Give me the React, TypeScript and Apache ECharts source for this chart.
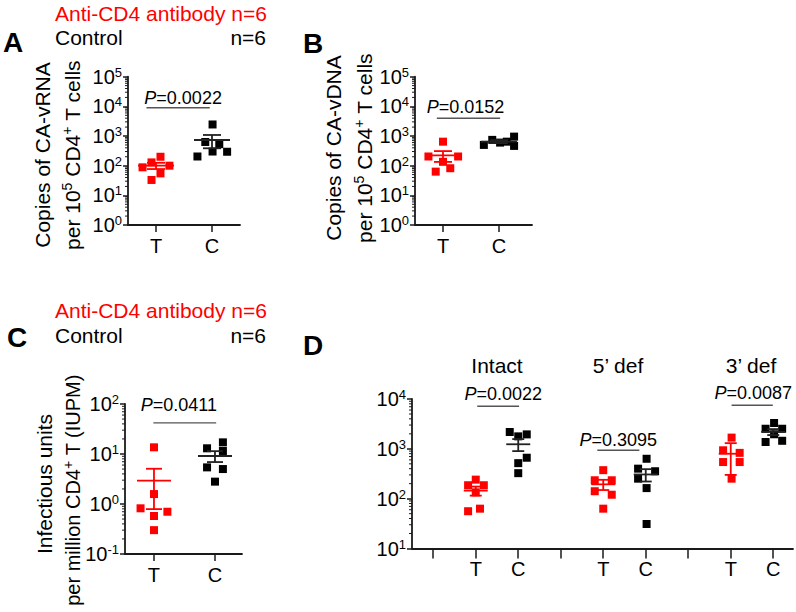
import React, { useEffect, useRef } from "react";
import * as echarts from "echarts";

const FONT = "'Liberation Sans', Arial, Helvetica, sans-serif";
const RED = "#ff0000";
const BLACK = "#000000";
const AXIS = "#1a1a1a";

const groupLabels = ["T", "C"];
const dGroupNames = ["Intact", "5\u2019 def", "3\u2019 def"];

// Panel A: CA-vRNA copies per 10^5 CD4+ T cells
const aTreatX = [-0.24, -0.08, 0.08, 0.24, 0.08, -0.08];
const aTreatY = [88, 129, 200, 100, 55, 33];
const aCtrlX = [0.74, 0.88, 1.01, 1.01, 1.13, 1.27];
const aCtrlY = [204, 630, 2450, 300, 530, 295];
const aMean = [100, 735];
const aLow = [77, 386];
const aHigh = [125, 1084];

// Panel B: CA-vDNA copies per 10^5 CD4+ T cells
const bTreatX = [0.0, -0.26, 0.27, 0.0, 0.13, -0.13];
const bTreatY = [645, 204, 204, 135, 82, 63];
const bCtrlX = [0.73, 0.88, 1.02, 1.14, 1.27, 1.27];
const bCtrlY = [501, 741, 600, 645, 955, 464];
const bMean = [222, 651];
const bLow = [134, 578];
const bHigh = [310, 724];

// Panel C: IUPM
const cTreatX = [0.0, 0.0, -0.22, 0.22, 0.0, 0.0];
const cTreatY = [13.6, 1.58, 0.82, 0.7, 0.575, 0.3];
const cCtrlX = [0.87, 1.13, 1.13, 0.87, 1.13, 1.0];
const cCtrlY = [13.0, 17.1, 11.5, 5.4, 5.0, 2.8];
const cMean = [2.93, 9.13];
const cLow = [0.79, 6.9];
const cHigh = [5.07, 11.4];

// Panel D: Intact / 5' def / 3' def
const dTreatX = [
  [0.82, 1.1, 0.82, 1.0, 1.19, 1.0],
  [4.0, 3.8, 4.2, 3.8, 4.2, 4.0],
  [7.02, 6.82, 7.21, 6.82, 7.21, 7.02],
];
const dTreatY = [
  [56, 63, 186, 241, 186, 134],
  [373, 234, 234, 141, 120, 63],
  [1680, 935, 830, 543, 543, 252],
];
const dCtrlX = [
  [1.8, 2.0, 2.2, 2.2, 2.0, 2.0],
  [5.02, 4.82, 5.22, 4.82, 5.02, 5.02],
  [8.02, 7.82, 8.21, 8.02, 7.82, 8.21],
];
const dCtrlY = [
  [2175, 1780, 1950, 663, 516, 325],
  [632, 400, 355, 252, 163, 31],
  [3300, 2530, 2530, 1960, 1370, 1450],
];
const dTreatPos = [1, 4, 7];
const dCtrlPos = [2, 5, 8];
const dTreatMean = [145, 194, 797];
const dTreatLow = [115, 149, 300];
const dTreatHigh = [175, 239, 1300];
const dCtrlMean = [1235, 306, 2190];
const dCtrlLow = [900, 221, 1890];
const dCtrlHigh = [1570, 391, 2490];

// significance annotations
const pA = ["0.0022"];
const pB = ["0.0152"];
const pC = ["0.0411"];
const pD = ["0.0022", "0.3095", "0.0087"];
const sigA = [{ x1: -0.17, x2: 0.96, y: 9000, dx: 5, dy: -9.5 }];
const sigB = [{ x1: -0.11, x2: 1.02, y: 3950, dx: -3, dy: -11 }];
const sigC = [{ x1: -0.01, x2: 1.02, y: 42, dx: -6, dy: -17.5 }];
const sigD = [
  { x1: 1.035, x2: 2.02, y: 7130, dx: 5, dy: -12.5 },
  { x1: 3.86, x2: 4.85, y: 935, dx: 0, dy: -10.5 },
  { x1: 7.02, x2: 7.99, y: 7470, dx: 1, dy: -12.5 },
];

const zip = (xs: number[], ys: number[]) => xs.map((x, i) => [x, ys[i]]);

const supRich = {
  b: { fontSize: 20, fontFamily: FONT, color: "#000", lineHeight: 22 },
  s: { fontSize: 13, fontFamily: FONT, color: "#000", lineHeight: 12, verticalAlign: "top" },
};

function xAxisCfg(gi: number, min: number, max: number, tickVals: number[], labelVals: number[], labelFn: (v: number) => string, tickLen: number, margin: number) {
  return {
    gridIndex: gi,
    type: "value",
    min,
    max,
    axisLine: { show: true, onZero: false, lineStyle: { color: AXIS, width: 1.8 } },
    axisTick: { show: true, length: tickLen, customValues: tickVals, lineStyle: { color: AXIS, width: 1.5 } },
    axisLabel: { show: true, customValues: labelVals, formatter: labelFn, margin, fontSize: 20, color: "#000", fontFamily: FONT },
    splitLine: { show: false },
    minorTick: { show: false },
  };
}

function yAxisCfg(gi: number, min: number, max: number) {
  return {
    gridIndex: gi,
    type: "log",
    logBase: 10,
    min,
    max,
    axisLine: { show: true, onZero: false, lineStyle: { color: AXIS, width: 1.8 } },
    axisTick: { show: true, length: 5, lineStyle: { color: AXIS, width: 1.5 } },
    minorTick: { show: false },
    splitLine: { show: false },
    axisLabel: {
      margin: 6,
      formatter: (v: number) => `{b|10}{s|${Math.round(Math.log10(v))}}`,
      rich: supRich,
    },
  };
}

function minorTickSeries(gi: number, xMin: number, expMin: number, expMax: number) {
  const data: number[][] = [];
  for (let e = expMin; e < expMax; e++) {
    for (let m = 2; m <= 9; m++) data.push([xMin, m * Math.pow(10, e)]);
  }
  return {
    type: "custom",
    coordinateSystem: "cartesian2d",
    xAxisIndex: gi,
    yAxisIndex: gi,
    silent: true,
    clip: false,
    z: 3,
    data,
    renderItem: (_p: any, api: any) => {
      const p = api.coord([api.value(0), api.value(1)]);
      return {
        type: "line",
        shape: { x1: p[0] - 3, y1: p[1], x2: p[0], y2: p[1] },
        style: { stroke: AXIS, lineWidth: 1 },
      };
    },
  };
}

function scatter(gi: number, data: number[][], color: string, size: number) {
  return {
    type: "scatter",
    xAxisIndex: gi,
    yAxisIndex: gi,
    symbol: "rect",
    symbolSize: size,
    itemStyle: { color, opacity: 1 },
    data,
    z: 4,
    silent: true,
  };
}

function errSeries(gi: number, xs: number[], means: number[], lows: number[], highs: number[], color: string, hw: number, cw: number) {
  return {
    type: "custom",
    coordinateSystem: "cartesian2d",
    xAxisIndex: gi,
    yAxisIndex: gi,
    silent: true,
    clip: false,
    z: 6,
    data: xs.map((x, i) => [x, means[i], lows[i], highs[i]]),
    renderItem: (_p: any, api: any) => {
      const x = api.value(0);
      const pm = api.coord([x, api.value(1)]);
      const pl = api.coord([x, api.value(2)]);
      const ph = api.coord([x, api.value(3)]);
      const st = { stroke: color, lineWidth: 1.8 };
      return {
        type: "group",
        children: [
          { type: "line", shape: { x1: pm[0] - hw, y1: pm[1], x2: pm[0] + hw, y2: pm[1] }, style: st },
          { type: "line", shape: { x1: pl[0], y1: pl[1], x2: ph[0], y2: ph[1] }, style: st },
          { type: "line", shape: { x1: pl[0] - cw, y1: pl[1], x2: pl[0] + cw, y2: pl[1] }, style: st },
          { type: "line", shape: { x1: ph[0] - cw, y1: ph[1], x2: ph[0] + cw, y2: ph[1] }, style: st },
        ],
      };
    },
  };
}

function sigSeries(gi: number, sigs: any[], ps: string[]) {
  return {
    type: "custom",
    coordinateSystem: "cartesian2d",
    xAxisIndex: gi,
    yAxisIndex: gi,
    silent: true,
    clip: false,
    z: 6,
    data: sigs.map((s) => [s.x1, s.y, s.x2]),
    renderItem: (params: any, api: any) => {
      const s = sigs[params.dataIndex];
      const a = api.coord([s.x1, s.y]);
      const b = api.coord([s.x2, s.y]);
      return {
        type: "group",
        children: [
          { type: "line", shape: { x1: a[0], y1: a[1], x2: b[0], y2: b[1] }, style: { stroke: "#555", lineWidth: 1.4 } },
          {
            type: "text",
            x: (a[0] + b[0]) / 2 + s.dx,
            y: a[1] + s.dy,
            style: {
              text: `{i|P}=${ps[params.dataIndex]}`,
              rich: { i: { fontStyle: "italic", fontSize: 18, fontFamily: FONT, fill: "#000" } },
              fontSize: 18,
              fontFamily: FONT,
              fill: "#000",
              align: "center",
              verticalAlign: "middle",
            },
          },
        ],
      };
    },
  };
}

const txt = (x: number, y: number, text: string, extra: any = {}) => ({
  type: "text",
  x,
  y,
  silent: true,
  style: { text, fontSize: 21, fontFamily: FONT, fill: "#000", align: "left", verticalAlign: "middle", ...extra },
});

const titleRich = { s: { fontSize: 14, lineHeight: 13, verticalAlign: "top", fontFamily: FONT, fill: "#000" } };
const vtxt = (x: number, y: number, text: string, size = 21) => ({
  type: "text",
  x,
  y,
  rotation: Math.PI / 2,
  silent: true,
  style: { text, rich: titleRich, fontSize: size, lineHeight: 24, fontFamily: FONT, fill: "#000", align: "center", verticalAlign: "middle" },
});

function buildOption() {
  const tcFmt = (v: number) => groupLabels[Math.round(v)] ?? "";
  const dFmt = (v: number) => (Math.round(v) % 3 === 1 ? groupLabels[0] : groupLabels[1]);
  return {
    animation: false,
    grid: [
      { left: 128, top: 76.7, width: 112, height: 148.3, outerBoundsMode: "none" },
      { left: 415, top: 76.7, width: 117, height: 148.3, outerBoundsMode: "none" },
      { left: 125, top: 404, width: 117, height: 150, outerBoundsMode: "none" },
      { left: 412, top: 399, width: 381, height: 149.5, outerBoundsMode: "none" },
    ],
    xAxis: [
      xAxisCfg(0, -0.5, 1.5, [0, 1], [0, 1], tcFmt, 7, 11),
      xAxisCfg(1, -0.5, 1.59, [0, 1], [0, 1], tcFmt, 7, 11),
      xAxisCfg(2, -0.475, 1.443, [0, 1], [0, 1], tcFmt, 7, 11),
      xAxisCfg(3, -0.5, 8.465, [0, 1, 2, 3, 4, 5, 6, 7, 8], [...dTreatPos, ...dCtrlPos], dFmt, 10, 10),
    ],
    yAxis: [yAxisCfg(0, 1, 1e5), yAxisCfg(1, 1, 1e5), yAxisCfg(2, 0.1, 100), yAxisCfg(3, 10, 1e4)],
    series: [
      minorTickSeries(0, -0.5, 0, 5),
      minorTickSeries(1, -0.5, 0, 5),
      minorTickSeries(2, -0.475, -1, 2),
      minorTickSeries(3, -0.5, 1, 4),
      scatter(0, zip(aTreatX, aTreatY), RED, 8),
      scatter(0, zip(aCtrlX, aCtrlY), BLACK, 8),
      scatter(1, zip(bTreatX, bTreatY), RED, 8),
      scatter(1, zip(bCtrlX, bCtrlY), BLACK, 8),
      scatter(2, zip(cTreatX, cTreatY), RED, 8),
      scatter(2, zip(cCtrlX, cCtrlY), BLACK, 8),
      ...dTreatX.map((xs, i) => scatter(3, zip(xs, dTreatY[i]), RED, 8)),
      ...dCtrlX.map((xs, i) => scatter(3, zip(xs, dCtrlY[i]), BLACK, 8)),
      errSeries(0, [0], [aMean[0]], [aLow[0]], [aHigh[0]], RED, 18, 9),
      errSeries(0, [1], [aMean[1]], [aLow[1]], [aHigh[1]], "#222", 18, 9),
      errSeries(1, [0], [bMean[0]], [bLow[0]], [bHigh[0]], RED, 18, 9),
      errSeries(1, [1], [bMean[1]], [bLow[1]], [bHigh[1]], "#222", 18, 9),
      errSeries(2, [0], [cMean[0]], [cLow[0]], [cHigh[0]], RED, 17, 8),
      errSeries(2, [1], [cMean[1]], [cLow[1]], [cHigh[1]], "#222", 17, 8),
      errSeries(3, dTreatPos, dTreatMean, dTreatLow, dTreatHigh, RED, 12, 6),
      errSeries(3, dCtrlPos, dCtrlMean, dCtrlLow, dCtrlHigh, "#222", 12, 6),
      sigSeries(0, sigA, pA),
      sigSeries(1, sigB, pB),
      sigSeries(2, sigC, pC),
      sigSeries(3, sigD, pD),
    ],
    graphic: [
      txt(55, 13, "Anti-CD4 antibody n=6", { fill: RED }),
      txt(55, 37, "Control"),
      txt(266, 37, "n=6", { align: "right" }),
      txt(3, 42, "A", { fontSize: 28, fontWeight: "bold" }),
      txt(303, 43, "B", { fontSize: 28, fontWeight: "bold" }),
      txt(55, 310, "Anti-CD4 antibody n=6", { fill: RED }),
      txt(55, 335, "Control"),
      txt(266, 335, "n=6", { align: "right" }),
      txt(7, 337, "C", { fontSize: 28, fontWeight: "bold" }),
      txt(303, 345, "D", { fontSize: 28, fontWeight: "bold" }),
      txt(497, 365, dGroupNames[0], { align: "center" }),
      txt(618, 365, dGroupNames[1], { align: "center" }),
      txt(751, 365, dGroupNames[2], { align: "center" }),
      vtxt(42, 155, "Copies of CA-vRNA"),
      vtxt(72, 155, "per 10{s|5} CD4{s|+} T cells"),
      vtxt(333, 148, "Copies of CA-vDNA"),
      vtxt(364, 148, "per 10{s|5} CD4{s|+} T cells"),
      vtxt(44, 484, "Infectious units"),
      vtxt(73, 490, "per million CD4{s|+} T (IUPM)", 20),
    ],
  };
}

export default function App() {
  const ref = useRef<HTMLDivElement>(null);
  useEffect(() => {
    document.body.style.margin = "0";
    const chart = echarts.init(ref.current as HTMLDivElement, null, { renderer: "svg" });
    chart.setOption(buildOption() as any);
    return () => chart.dispose();
  }, []);
  return <div ref={ref} style={{ width: 796, height: 612 }} />;
}
